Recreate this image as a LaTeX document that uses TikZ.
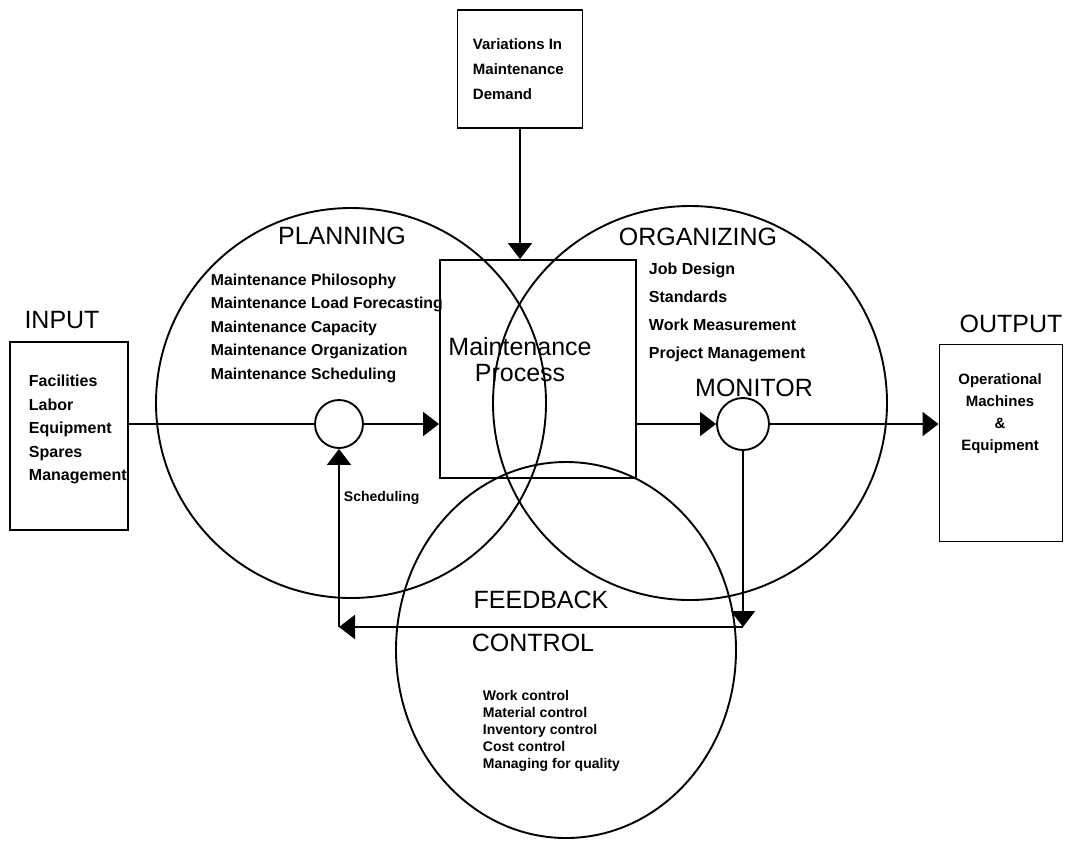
\documentclass[tikz,border=0pt]{standalone}
\usepackage{fontspec}
\setmainfont{Liberation Sans}
\usetikzlibrary{arrows.meta,shapes.geometric}

\begin{document}
\begin{tikzpicture}[x=1pt, y=-1pt, line width=1.9pt,
  box/.style = {draw, rectangle, inner sep=0pt},
  ring/.style = {draw, circle, inner sep=0pt},
  head/.style = {font=\fontsize{25}{26}\selectfont, align=center, inner sep=0pt},
  item/.style = {font=\fontsize{16}{23.5}\selectfont\bfseries, align=left,
    anchor=north west, inner sep=0pt},
  arr/.style = {-{Triangle[length=16pt,width=24pt]}}]
  \useasboundingbox (0,0) rectangle (1075,852);

  % the three areas
  \node[ring, minimum size=390pt] (planning) at (351,403) {};
  \node[ring, minimum size=394pt] (organizing) at (690,403) {};
  \node[draw, ellipse, inner sep=0pt, minimum width=340pt, minimum height=376pt]
    (feedback) at (566,650) {};

  % boxes
  \node[box, minimum width=118pt, minimum height=188pt] (input) at (69,436) {};
  \node[box, minimum width=123pt, minimum height=197pt] (output) at (1001,443) {};
  \node[box, minimum width=125pt, minimum height=118pt] (demand) at (520,69) {};
  \node[box, minimum width=196pt, minimum height=218pt] (process) at (538,369) {};
  \node[ring, minimum size=48pt] (plansum) at (339,424) {};
  \node[ring, minimum size=52pt] (monitor) at (743,424) {};

  % titles
  \node[head] (inputlbl) at (62,320) {INPUT};
  \node[head] (outputlbl) at (1011,324) {OUTPUT};
  \node[head] (planlbl) at (342,236) {PLANNING};
  \node[head] (orglbl) at (698,237) {ORGANIZING};
  \node[head] (monlbl) at (754,388) {MONITOR};
  \node[head] (fblbl) at (541,600) {FEEDBACK};
  \node[head] (ctrllbl) at (533,643) {CONTROL};
  \node[head] (proclbl) at (520,360) {Maintenance\\Process};

  % lists
  \node[item] (inputitems) at (28,374)
    {Facilities\\Labor\\Equipment\\Spares\\Management};
  \node[item, font=\fontsize{15}{22}\selectfont\bfseries, align=center, anchor=north]
    (outputitems) at (1000,373) {Operational\\Machines\\\&\\Equipment};
  \node[item, font=\fontsize{15}{25}\selectfont\bfseries] (demanditems) at (472,38)
    {Variations In\\Maintenance\\Demand};
  \node[item, font=\fontsize{15.8}{23.5}\selectfont\bfseries] (planitems) at (210,273)
    {Maintenance Philosophy\\Maintenance Load Forecasting\\Maintenance Capacity\\
     Maintenance Organization\\Maintenance Scheduling};
  \node[item, font=\fontsize{16}{28}\selectfont\bfseries] (orgitems) at (648,262)
    {Job Design\\Standards\\Work Measurement\\Project Management};
  \node[item, font=\fontsize{14}{17}\selectfont\bfseries] (fbitems) at (482,689)
    {Work control\\Material control\\Inventory control\\Cost control\\Managing for quality};
  \node[item, font=\fontsize{14}{17}\selectfont\bfseries, anchor=west] (schedlbl)
    at (343,498) {Scheduling};

  % flow
  \coordinate (fbR) at (743,627);
  \coordinate (fbL) at (plansum |- fbR);
  \draw (input.east |- plansum) -- (plansum.west);
  \draw[arr] (plansum.east) -- (process.west |- plansum);
  \draw[arr] (demand.south) -- (demand.south |- process.north);
  \draw[arr] (process.east |- monitor) -- (monitor.west);
  \draw[arr] (monitor.east) -- (output.west |- monitor);
  \draw[arr] (monitor.south) -- (fbR);
  \draw[arr] (fbR) -- (fbL);
  \draw[arr] (fbL) -- (plansum.south);
\end{tikzpicture}
\end{document}
